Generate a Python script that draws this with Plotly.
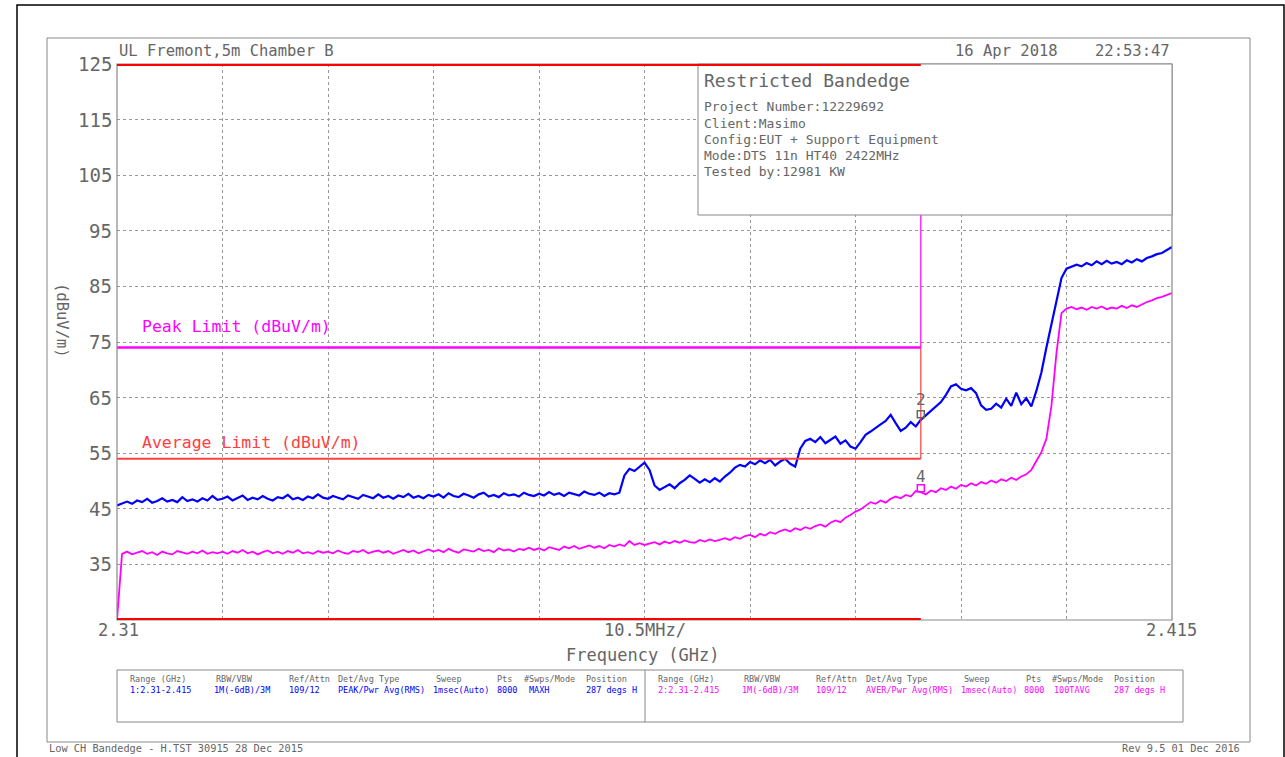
import numpy as np
import plotly.graph_objects as go

# ---------------- data ----------------
f_start, f_stop = 2.310, 2.415
restricted_edge = 2.390
peak_limit = 74.0
avg_limit = 54.0
y_ticks = [35, 45, 55, 65, 75, 85, 95, 105, 115, 125]

peak_trace = [
    45.6, 46.0, 46.3, 45.9, 46.5, 46.2, 46.8, 46.1, 46.4, 46.9, 46.3, 46.6, 46.2, 47.1, 46.4, 46.7, 46.3, 46.9, 46.5, 47.3, 46.6,
    46.8, 47.2, 46.5, 46.9, 47.4, 46.6, 47.0, 46.7, 47.3, 46.8, 46.5, 47.1, 46.9, 47.5, 46.7, 47.0, 46.6, 47.2, 46.9, 47.6, 47.0,
    46.8, 47.3, 47.0, 46.7, 47.4, 47.1, 46.8, 47.5, 47.2, 46.9, 47.6, 47.0, 47.3, 46.8, 47.4, 47.1, 47.7, 47.0, 47.3, 46.9, 47.5,
    47.2, 47.6, 47.0, 47.8, 47.3, 47.1, 47.7, 47.4, 47.0, 47.6, 47.9, 47.2, 47.5, 47.1, 47.8, 47.4, 47.6, 47.2, 47.9, 47.5, 47.3,
    47.7, 47.4, 48.0, 47.5, 47.8, 47.3, 47.9, 47.6, 47.4, 48.1, 47.7, 47.5, 47.9, 47.3, 47.8, 47.6, 47.9,
    51.0, 52.2, 51.8, 52.5, 53.3, 52.0, 49.2, 48.4, 48.9, 49.4, 48.7, 49.6, 50.2, 51.0, 50.4, 49.7, 50.3, 49.8, 50.5, 49.9,
    50.8, 51.5, 52.4, 52.9, 52.6, 53.4, 53.0, 53.7, 53.2, 53.8, 52.8, 53.5, 54.0, 53.1, 52.6, 55.8, 57.2, 57.6, 57.0, 57.9,
    56.8, 57.4, 58.0, 56.7, 57.3, 56.2, 55.8, 57.0, 58.3, 58.9, 59.6, 60.2, 60.8, 61.9, 60.4, 59.0, 59.6, 60.6, 59.8, 61.0,
    61.8, 62.6, 63.4, 64.2, 65.5, 67.0, 67.4, 66.6, 66.3, 66.7, 65.8, 63.6, 62.8, 63.0, 63.9, 63.2, 64.8, 63.5, 65.9, 63.8,
    64.9, 63.4, 66.2, 69.5, 74.0, 78.0, 82.6, 86.5, 88.2, 88.5, 88.9, 88.6, 89.2, 88.8, 89.5, 89.0, 89.6, 89.1, 89.4, 89.0,
    89.7, 89.3, 89.9, 89.5, 90.1, 90.4, 90.8, 91.0, 91.5, 92.1,
]

avg_trace = [
    25.0, 36.9, 37.3, 36.8, 37.1, 37.4, 36.9, 37.2, 36.7, 37.3, 37.0, 36.8, 37.4, 37.1, 36.9, 37.3, 37.0, 37.5, 36.9, 37.2, 37.0,
    37.3, 36.9, 37.4, 37.1, 37.6, 37.0, 37.3, 36.8, 37.2, 37.5, 37.0, 37.3, 36.9, 37.4, 37.1, 37.6, 37.0, 37.2, 36.9, 37.4, 37.1,
    37.3, 37.0, 37.5, 37.1, 36.9, 37.4, 37.2, 37.6, 37.0, 37.3, 37.5, 37.1, 37.4, 36.9, 37.3, 37.6, 37.2, 37.5, 37.0, 37.4, 37.7,
    37.3, 37.6, 37.2, 37.8, 37.4, 37.1, 37.7, 37.5, 37.3, 37.8, 37.4, 37.6, 37.2, 37.9, 37.5, 37.7, 37.3, 37.8, 37.6, 38.0, 37.6,
    37.9, 37.5, 38.1, 37.8, 37.6, 38.2, 37.9, 38.3, 37.8, 38.1, 38.4, 38.0, 38.3, 37.9, 38.5, 38.2, 38.6, 38.3, 39.2, 38.5, 38.8,
    38.5, 38.8, 39.0, 38.6, 39.1, 38.8, 39.2, 38.9, 39.3, 39.0, 38.9, 39.4, 39.1, 39.5, 39.2, 39.4, 39.7, 39.4, 39.9, 39.6, 40.1,
    40.3, 39.9, 40.5, 40.2, 40.8, 40.5, 41.0, 41.3, 40.9, 41.5, 41.2, 41.7, 41.4, 41.9, 42.2, 41.8, 42.5, 42.9, 42.6, 43.4, 43.9,
    44.5, 44.9, 45.6, 46.2, 45.9, 46.5, 46.1, 46.8, 47.2, 46.9, 47.5, 47.2, 48.2, 48.0, 47.6, 48.3, 48.0, 48.7, 48.4, 49.0, 48.6,
    49.3, 49.0, 49.6, 49.2, 49.8, 49.5, 50.1, 49.7, 50.3, 50.0, 50.6, 50.2, 50.8, 51.2, 52.0, 53.6, 55.2, 57.6, 63.5, 73.0, 80.2,
    81.0, 81.3, 80.9, 81.2, 80.8, 81.3, 81.0, 81.4, 80.9, 81.2, 81.0, 81.5, 81.1, 81.6, 81.3, 81.8, 82.2, 82.5, 82.9, 83.1, 83.5, 83.8,
]

marker_freq = [2.3900, 2.3900]
marker_level = [62.0, 48.7]
marker_names = ["2", "4"]

header_cols = ["Range (GHz)", "RBW/VBW", "Ref/Attn", "Det/Avg Type", "Sweep", "Pts", "#Swps/Mode", "Position"]
trace1_vals = ["1:2.31-2.415", "1M(-6dB)/3M", "109/12", "PEAK/Pwr Avg(RMS)", "1msec(Auto)", "8000", "MAXH", "287 degs H"]
trace2_vals = ["2:2.31-2.415", "1M(-6dB)/3M", "109/12", "AVER/Pwr Avg(RMS)", "1msec(Auto)", "8000", "100TAVG", "287 degs H"]

info_lines = ["Project Number:12229692", "Client:Masimo", "Config:EUT + Support Equipment",
              "Mode:DTS 11n HT40 2422MHz", "Tested by:12981 KW"]

freq_peak = np.linspace(f_start, f_stop, len(peak_trace))
freq_avg = np.linspace(f_start, f_stop, len(avg_trace))

# ---------------- layout geometry ----------------
W, H = 1285, 757
L, R, T, B = 117, 1172, 64, 620
PW, PH = R - L, B - T


def px(x):
    return (x - L) / PW


def py(y):
    return (B - y) / PH


FONT = "DejaVu Sans Mono"
GRAY = "#666666"
BLUE = "#0000ff"
MAG = "#ff00ff"
RED = "#ff0000"

fig = go.Figure()

# traces
fig.add_trace(go.Scatter(x=freq_avg, y=avg_trace, mode="lines",
                         line=dict(color=MAG, width=1.8), hoverinfo="skip"))
fig.add_trace(go.Scatter(x=freq_peak, y=peak_trace, mode="lines",
                         line=dict(color=BLUE, width=2.2), hoverinfo="skip"))

# limits (horizontal parts thicker, vertical steps thin)
fig.add_trace(go.Scatter(x=[f_start, restricted_edge], y=[avg_limit, avg_limit],
                         mode="lines", line=dict(color="#ff4040", width=2), hoverinfo="skip"))
fig.add_trace(go.Scatter(x=[restricted_edge, restricted_edge], y=[avg_limit, peak_limit],
                         mode="lines", line=dict(color="#ff4040", width=1.2), hoverinfo="skip"))
fig.add_trace(go.Scatter(x=[f_start, restricted_edge], y=[peak_limit, peak_limit],
                         mode="lines", line=dict(color=MAG, width=2.5), hoverinfo="skip"))
fig.add_trace(go.Scatter(x=[restricted_edge, restricted_edge], y=[peak_limit, 125],
                         mode="lines", line=dict(color=MAG, width=1.2), hoverinfo="skip"))

# markers
fig.add_trace(go.Scatter(x=marker_freq, y=marker_level, mode="markers",
                         marker=dict(symbol="square-open", size=7, color=[GRAY, MAG], line=dict(width=1.5)),
                         hoverinfo="skip"))

shapes = []
# outer black border
shapes.append(dict(type="rect", xref="paper", yref="paper", x0=px(17), x1=px(1284), y0=py(760), y1=py(5),
                   line=dict(color="black", width=1.5), fillcolor="rgba(0,0,0,0)", layer="below"))
# gray frame
shapes.append(dict(type="rect", xref="paper", yref="paper", x0=px(47), x1=px(1250), y0=py(742), y1=py(38),
                   line=dict(color="#888888", width=1), fillcolor="rgba(0,0,0,0)", layer="below"))
# plot border
shapes.append(dict(type="rect", xref="paper", yref="paper", x0=0, x1=1, y0=0, y1=1,
                   line=dict(color="#888888", width=1.2), fillcolor="rgba(0,0,0,0)", layer="above"))
# info box
shapes.append(dict(type="rect", xref="paper", yref="paper", x0=px(698), x1=px(1172), y0=py(215), y1=py(64),
                   line=dict(color="#888888", width=1), fillcolor="white", layer="above"))
# restricted band top/bottom red lines
for lvl in (125, 25):
    shapes.append(dict(type="line", xref="x", yref="y", x0=f_start, x1=restricted_edge, y0=lvl, y1=lvl,
                       line=dict(color=RED, width=4), layer="above"))
# table box
shapes.append(dict(type="rect", xref="paper", yref="paper", x0=px(117), x1=px(1183), y0=py(722), y1=py(670),
                   line=dict(color="#888888", width=1), fillcolor="rgba(0,0,0,0)"))
shapes.append(dict(type="line", xref="paper", yref="paper", x0=px(645), x1=px(645), y0=py(722), y1=py(670),
                   line=dict(color="#888888", width=1)))

ann = []


def text(x, y, s, size, color=GRAY, xanchor="left", yanchor="middle", angle=0):
    ann.append(dict(xref="paper", yref="paper", x=px(x), y=py(y), text=s, showarrow=False,
                    xanchor=xanchor, yanchor=yanchor, textangle=angle,
                    font=dict(family=FONT, size=size, color=color)))


text(117, 51, "UL Fremont,5m Chamber B", 15.5)
text(1172, 51, "16 Apr 2018&nbsp;&nbsp;&nbsp;&nbsp;22:53:47", 15.5, xanchor="right")
text(702, 80, "Restricted Bandedge", 18)
for i, s in enumerate(info_lines):
    text(702, 107 + i * 16.2, s, 13)
text(140, 327, "Peak Limit (dBuV/m)", 16.5, color=MAG)
text(140, 442, "Average Limit (dBuV/m)", 16.5, color="#ff4040")
text(62, 320, "(dBuV/m)", 15.5, xanchor="center", angle=90)
for v in y_ticks:
    text(114, B - (v - 25) / 100 * PH, str(v), 19, xanchor="right")
text(96, 630, "2.31", 17)
text(645, 630, "10.5MHz/", 17, xanchor="center")
text(1171, 630, "2.415", 17, xanchor="center")
text(643, 655, "Frequency (GHz)", 17, xanchor="center")
text(47, 748, "Low CH Bandedge - H.TST 30915 28 Dec 2015", 10.3)
text(1242, 748, "Rev 9.5 01 Dec 2016", 10.3, xanchor="right")
text(914, 399, "2", 16)
text(914, 476, "4", 16)

left_x = [128, 214, 287, 336, 434, 495, 522, 584]
left_vx = [128, 212, 287, 336, 431, 495, 527, 584]
right_x = [656, 742, 814, 864, 962, 1024, 1050, 1112]
right_vx = [656, 740, 814, 864, 959, 1022, 1052, 1112]
for i in range(len(header_cols)):
    text(left_x[i], 679, header_cols[i], 8.5)
    text(left_vx[i], 690, trace1_vals[i], 8.5, color=BLUE)
    text(right_x[i], 679, header_cols[i], 8.5)
    text(right_vx[i], 690, trace2_vals[i], 8.5, color=MAG)

fig.update_layout(
    width=W, height=H,
    margin=dict(l=L, r=W - R, t=T, b=H - B),
    paper_bgcolor="white", plot_bgcolor="white",
    showlegend=False,
    shapes=shapes, annotations=ann,
    xaxis=dict(range=[f_start, f_stop], tick0=f_start, dtick=(f_stop - f_start) / 10,
               showgrid=True, gridcolor="#999999", griddash="dot", gridwidth=1,
               showticklabels=False, ticks="", zeroline=False, showline=False),
    yaxis=dict(range=[25, 125], tick0=25, dtick=10,
               showgrid=True, gridcolor="#999999", griddash="dot", gridwidth=1,
               showticklabels=False, ticks="", zeroline=False, showline=False),
)

fig.write_html("out.html", config={"displayModeBar": False},
               post_script="document.body.style.margin='0';document.body.style.overflow='hidden';")
